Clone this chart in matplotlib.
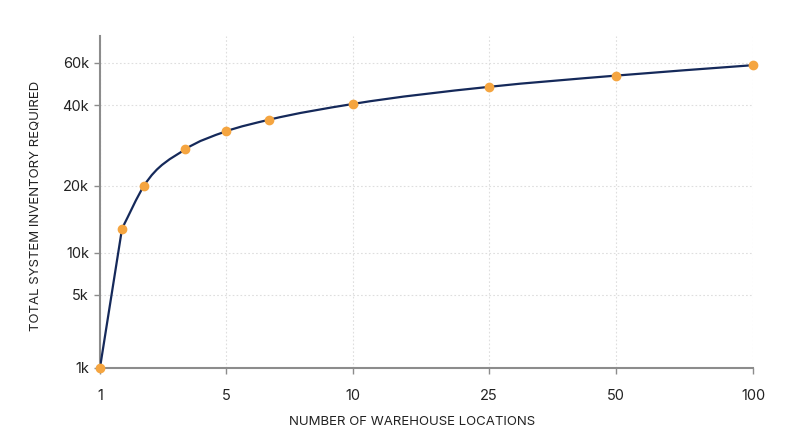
import numpy as np
import matplotlib
matplotlib.use("Agg")
import matplotlib.pyplot as plt
from matplotlib.path import Path
from matplotlib.patches import PathPatch

plt.rcParams['font.family'] = ['Inter', 'DejaVu Sans']

# data
locations = [1, 1.7, 2.4, 3.7, 5, 6.7, 10, 25, 50, 100]
inventory = [1000, 13600, 20000, 29000, 33500, 36400, 40600, 48600, 53900, 58800]

x_ticks = [1, 5, 10, 25, 50, 100]
x_tick_labels = ['1', '5', '10', '25', '50', '100']
y_ticks = [1000, 5000, 10000, 20000, 40000, 60000]
y_tick_labels = ['1k', '5k', '10k', '20k', '40k', '60k']

x_pos = [0, 126, 253, 388.5, 516, 653]
y_pos = [0, 72.7, 115, 182, 262.4, 305]

LINE = '#15295a'
DOT = '#f5a540'
AXIS = '#8c8c8c'
TEXT = '#222222'


def piecewise(v, xs, ys):
    v = np.asarray(v, dtype=float)
    shape = v.shape
    v = np.atleast_1d(v)
    out = np.interp(v, xs, ys)
    lo = v < xs[0]
    hi = v > xs[-1]
    out[lo] = ys[0] + (v[lo] - xs[0]) * (ys[1] - ys[0]) / (xs[1] - xs[0])
    out[hi] = ys[-1] + (v[hi] - xs[-1]) * (ys[-1] - ys[-2]) / (xs[-1] - xs[-2])
    return out.reshape(shape)


def fx(v):
    return piecewise(v, x_ticks, x_pos)


def fx_inv(v):
    return piecewise(v, x_pos, x_ticks)


def fy(v):
    return piecewise(v, y_ticks, y_pos)


def fy_inv(v):
    return piecewise(v, y_pos, y_ticks)


# monotone cubic through the points, returned as a bezier path.
# the reference has a straight first leg and a corner at the 2nd point,
# so that leg is a plain line and the curve restarts from there
def monotone_path(x, y):
    x = np.asarray(x, float)
    y = np.asarray(y, float)
    n = len(x)
    h = np.diff(x)
    s = np.diff(y) / h
    t = np.zeros(n)
    for i in range(1, n - 1):
        p = (s[i - 1] * h[i] + s[i] * h[i - 1]) / (h[i - 1] + h[i])
        t[i] = (np.sign(s[i - 1]) + np.sign(s[i])) * min(abs(s[i - 1]), abs(s[i]), 0.5 * abs(p))
    t[1] = s[1]
    t[-1] = s[-1]
    verts = [(x[0], y[0]), (x[1], y[1])]
    codes = [Path.MOVETO, Path.LINETO]
    for i in range(1, n - 1):
        dx = h[i] / 3
        verts += [(x[i] + dx, y[i] + dx * t[i]),
                  (x[i + 1] - dx, y[i + 1] - dx * t[i + 1]),
                  (x[i + 1], y[i + 1])]
        codes += [Path.CURVE4] * 3
    return Path(verts, codes)


fig = plt.figure(figsize=(8, 4.47), dpi=100)
ax = fig.add_axes([0.125, 0.1774, 0.81625, 0.7421])

ax.set_xscale('function', functions=(fx, fx_inv))
ax.set_yscale('function', functions=(fy, fy_inv))
ax.set_xlim(1, 100)
ax.set_ylim(1000, 72500)

# smooth line drawn in scaled space
sx = fx(locations)
sy = fy(inventory)
curve = PathPatch(monotone_path(sx, sy), facecolor='none', edgecolor=LINE,
                  lw=1.6, transform=ax.transLimits + ax.transAxes, zorder=3,
                  capstyle='round', joinstyle='round')
ax.add_patch(curve)

ax.plot(locations, inventory, linestyle='none', marker='o', ms=6,
        color=DOT, mec=DOT, zorder=4, clip_on=False)

ax.set_xticks(x_ticks)
ax.set_xticklabels(x_tick_labels)
ax.set_yticks(y_ticks)
ax.set_yticklabels(y_tick_labels)
ax.minorticks_off()

ax.grid(True, color='#dedede', linestyle=(0, (1.5, 2)), linewidth=0.8)
ax.set_axisbelow(True)

for side in ['top', 'right']:
    ax.spines[side].set_visible(False)
for side in ['left', 'bottom']:
    ax.spines[side].set_color(AXIS)
    ax.spines[side].set_linewidth(1.5)

ax.tick_params(axis='both', colors=AXIS, labelcolor=TEXT, labelsize=10.5,
               length=4, width=1)
ax.tick_params(axis='x', pad=11)
ax.tick_params(axis='y', pad=4)

ax.set_xlabel('NUMBER OF WAREHOUSE LOCATIONS', fontsize=9.5, color=TEXT)
ax.set_ylabel('TOTAL SYSTEM INVENTORY REQUIRED', fontsize=9.5, color=TEXT)
ax.xaxis.set_label_coords(0.478, -0.147)
ax.yaxis.set_label_coords(-0.089, 0.489)

fig.savefig('out.png', dpi=100, facecolor='white')
